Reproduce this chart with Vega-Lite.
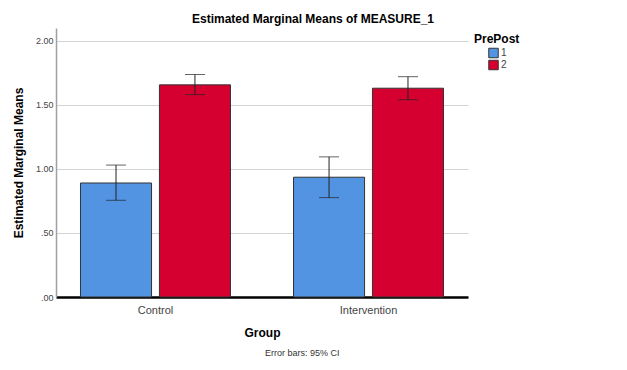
{
  "$schema": "https://vega.github.io/schema/vega-lite/v6.json",
  "background": "white",
  "padding": {"left": 12, "top": 13, "right": 5, "bottom": 5},
  "config": {"font": "Liberation Sans", "view": {"stroke": null}},
  "title": {"text": "Error bars: 95% CI", "orient": "bottom", "fontSize": 9, "fontWeight": "normal", "color": "#333333", "offset": 11, "anchor": "middle", "dx": 33},
  "vconcat": [
    {
      "width": 412,
      "height": 269,
      "title": {"text": "Estimated Marginal Means of MEASURE_1", "fontSize": 12, "fontWeight": "bold", "color": "#000000", "offset": 2, "anchor": "middle", "dx": 51},
      "data": {"values": [
        {"Group": "Control", "PrePost": "1", "mean": 0.89, "lower": 0.755, "upper": 1.03},
        {"Group": "Control", "PrePost": "2", "mean": 1.656, "lower": 1.58, "upper": 1.737},
        {"Group": "Intervention", "PrePost": "1", "mean": 0.935, "lower": 0.776, "upper": 1.094},
        {"Group": "Intervention", "PrePost": "2", "mean": 1.63, "lower": 1.54, "upper": 1.72}
      ]},
      "encoding": {
        "x": {"field": "Group", "type": "nominal", "sort": ["Control", "Intervention"],
          "scale": {"paddingInner": 0.296, "paddingOuter": 0.115},
          "axis": {"title": "Group", "titleFontSize": 12, "titleFontWeight": "bold", "titleColor": "#000000", "titlePadding": 12,
            "labelAngle": 0, "labelFontSize": 11, "labelColor": "#444444", "labelPadding": 7, "ticks": false,
            "domainColor": "#000000", "domainWidth": 2.5}},
        "xOffset": {"field": "PrePost", "type": "nominal", "scale": {"paddingInner": 0.1, "paddingOuter": 0}}
      },
      "layer": [
        {
          "mark": {"type": "bar", "stroke": "#333333", "strokeWidth": 1},
          "encoding": {
            "y": {"field": "mean", "type": "quantitative",
              "scale": {"domain": [0, 2.1], "nice": false},
              "axis": {"title": "Estimated Marginal Means", "titleFontSize": 12, "titleFontWeight": "bold", "titleColor": "#000000", "titlePadding": 10,
                "values": [0, 0.5, 1, 1.5, 2],
                "labelExpr": "datum.value < 1 ? substring(format(datum.value, '.2f'), 1) : format(datum.value, '.2f')",
                "labelFontSize": 9, "labelColor": "#444444", "labelPadding": 3, "ticks": false,
                "domainColor": "#a0a0a0", "domainWidth": 1.5,
                "grid": true, "gridColor": "#d4d4d4", "gridWidth": 1}},
            "color": {"field": "PrePost", "type": "nominal",
              "scale": {"domain": ["1", "2"], "range": ["#5294e2", "#d50030"]},
              "legend": {"title": "PrePost", "titleFontSize": 12, "titleFontWeight": "bold", "titleColor": "#000000",
                "symbolType": "square", "symbolSize": 90, "symbolStrokeColor": "#333333", "symbolStrokeWidth": 1, "symbolOpacity": 1,
                "symbolOffset": 14, "labelOffset": 2, "clipHeight": 12,
                "labelFontSize": 10, "labelColor": "#444444", "rowPadding": 0, "offset": 0, "padding": 6, "titlePadding": 1}}
          }
        },
        {
          "mark": {"type": "rule", "color": "#222222", "strokeWidth": 1},
          "encoding": {"y": {"field": "lower", "type": "quantitative"}, "y2": {"field": "upper"}}
        },
        {
          "mark": {"type": "tick", "color": "#222222", "thickness": 1, "size": 20},
          "encoding": {"y": {"field": "lower", "type": "quantitative"}}
        },
        {
          "mark": {"type": "tick", "color": "#222222", "thickness": 1, "size": 20},
          "encoding": {"y": {"field": "upper", "type": "quantitative"}}
        }
      ]
    }
  ]
}
